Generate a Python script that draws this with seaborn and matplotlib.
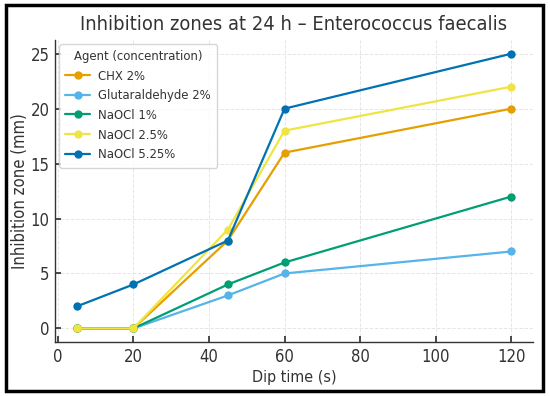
import pandas as pd
import numpy as np
import matplotlib.pyplot as plt
import seaborn as sns
from matplotlib.patches import Rectangle

dip_time = [5, 20, 45, 60, 120]
agents = ['CHX 2%', 'Glutaraldehyde 2%', 'NaOCl 1%', 'NaOCl 2.5%', 'NaOCl 5.25%']
chx = [0, 0, 8, 16, 20]
glutaraldehyde = [0, 0, 3, 5, 7]
naocl_1 = [0, 0, 4, 6, 12]
naocl_25 = [0, 0, 9, 18, 22]
naocl_525 = [2, 4, 8, 20, 25]
colors = ['#E69F00', '#56B4E9', '#009E73', '#F0E442', '#0072B2']

zones = [chx, glutaraldehyde, naocl_1, naocl_25, naocl_525]
rows = []
for agent, vals in zip(agents, zones):
    for t, v in zip(dip_time, vals):
        rows.append({'Dip time (s)': t, 'Inhibition zone (mm)': v, 'Agent': agent})
df = pd.DataFrame(rows)

sns.set_theme(style='ticks')
plt.rcParams['font.family'] = ['DejaVu Sans']
plt.rcParams['font.stretch'] = 'condensed'
txt = '#333333'

fig = plt.figure(figsize=(5.5, 3.96), dpi=100)
ax = fig.add_axes([0.1, 0.136, 0.869, 0.763])

sns.lineplot(data=df, x='Dip time (s)', y='Inhibition zone (mm)', hue='Agent',
             hue_order=agents, palette=dict(zip(agents, colors)), marker='o',
             markersize=6, markeredgewidth=0, linewidth=1.6, ax=ax)

ax.grid(True, linestyle='--', color='#e6e6e6', linewidth=0.7)
ax.set_axisbelow(True)
sns.despine(ax=ax)
for s in ['left', 'bottom']:
    ax.spines[s].set_color('#333333')
    ax.spines[s].set_linewidth(1.0)
ax.tick_params(direction='in', labelsize=12, colors=txt, length=4, pad=4)
ax.set_xticks([0, 20, 40, 60, 80, 100, 120])
ax.set_yticks([0, 5, 10, 15, 20, 25])
ax.set_xlabel('Dip time (s)', fontsize=11.5, color=txt, labelpad=3)
ax.set_ylabel('Inhibition zone (mm)', fontsize=12, color=txt, labelpad=1)
ax.set_title('Inhibition zones at 24 h – Enterococcus faecalis', fontsize=14.4, color=txt, pad=7)

leg = ax.legend(title='Agent (concentration)', loc='upper left', fontsize=9.4,
                title_fontsize=9.4, frameon=True, borderpad=0.5, labelspacing=0.5,
                handlelength=1.9, handletextpad=0.6, borderaxespad=0.3)
leg.get_frame().set_edgecolor('#cccccc')
for t in leg.get_texts():
    t.set_color(txt)
leg.get_title().set_color(txt)

fig.patches.append(Rectangle((0.01, 0.012), 0.978, 0.975, transform=fig.transFigure,
                             fill=False, edgecolor='black', linewidth=2.5))

fig.savefig('out.png', dpi=100)
